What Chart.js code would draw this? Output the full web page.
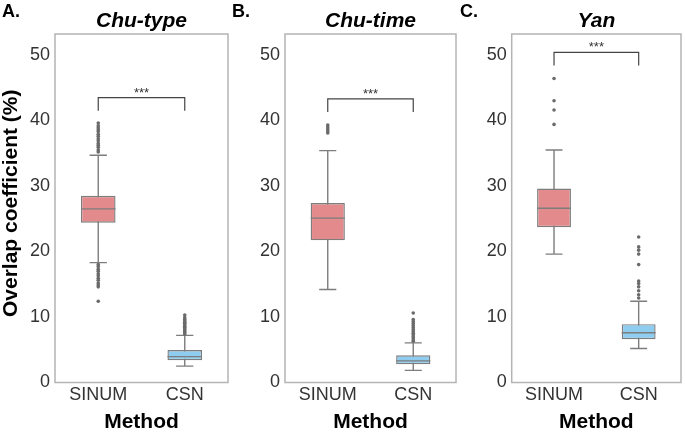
<!DOCTYPE html>
<html>
<head>
<meta charset="utf-8">
<title>Overlap coefficient by method</title>
<script src="https://cdn.jsdelivr.net/npm/chart.js@4.4.1/dist/chart.umd.min.js"></script>
<style>
    html, body { margin: 0; padding: 0; background: #fff; }
    #wrap { position: relative; width: 685px; height: 436px; overflow: hidden; }
    #wrap canvas { position: absolute; top: 0; }
</style>
</head>
<body>
<div id="wrap">
    <canvas id="panelA" width="232" height="436" style="left:0px"></canvas>
    <canvas id="panelB" width="228" height="436" style="left:232px"></canvas>
    <canvas id="panelC" width="225" height="436" style="left:460px"></canvas>
</div>
<script>
// ---- data ----
const methods = ['SINUM', 'CSN'];
const panelLetters = ['A.', 'B.', 'C.'];
const panelTitles = ['Chu-type', 'Chu-time', 'Yan'];
const yTicks = [0, 10, 20, 30, 40, 50];
const yTitle = 'Overlap coefficient (%)';
const xTitle = 'Method';
const sigLabel = '***';

// box stats per panel, [SINUM, CSN]
const whiskerLow  = [[18.3, 2.5],  [14.2, 1.85], [19.6, 5.2]];
const q1          = [[24.4, 3.4],  [21.7, 2.8],  [23.7, 6.6]];
const median      = [[26.5, 3.95], [25.1, 3.3],  [26.6, 7.6]];
const q3          = [[28.5, 4.95], [27.4, 4.15], [29.6, 8.9]];
const whiskerHigh = [[34.7, 7.2],  [35.4, 6.05], [35.5, 12.4]];

const outliersSinum = [
    [35.2, 35.5, 35.9, 36.2, 36.5, 36.9, 37.2, 37.6, 37.9, 38.3, 38.6, 38.9, 39.2, 39.6,
     18.0, 17.7, 17.3, 17.0, 16.6, 16.3, 15.9, 15.6, 15.2, 14.9, 14.6, 12.4],
    [38.1, 38.4, 38.7, 39.0, 39.3],
    [46.4, 43.0, 41.6, 39.4]
];
const outliersCsn = [
    [7.4, 7.6, 7.8, 8.0, 8.2, 8.4, 8.6, 8.8, 9.0, 9.2, 9.4, 9.6, 9.9, 10.3],
    [6.3, 6.5, 6.8, 7.0, 7.3, 7.5, 7.8, 8.1, 8.4, 8.7, 9.0, 9.3, 9.6, 10.6],
    [12.9, 13.4, 14.0, 14.6, 15.1, 15.5, 18.0, 19.6, 20.2, 20.7, 22.2]
];

// significance bracket (value of the bar and of the leg ends)
const bracketTop = [43.5, 43.3, 50.4];
const bracketLow = [41.5, 41.3, 48.4];

// ---- look ----
const FONT = "'Liberation Sans', Arial, sans-serif";
const boxColors = ['#e38b8c', '#8ecdf0'];
const edgeGrey = '#7d7d7d';
const panelLayout = [
    { id: 'panelA', axisWidth: 55,   padRight: 4,   letterX: 2 },
    { id: 'panelB', axisWidth: 53,   padRight: 2.3, letterX: 0 },
    { id: 'panelC', axisWidth: 51.7, padRight: 1,   letterX: 0 }
];

const boxExtras = {
    id: 'boxExtras',
    beforeDatasetsDraw(chart, args, opts) {
        const p = opts.panel;
        const { ctx, scales: { x, y } } = chart;
        const bars = chart.getDatasetMeta(0).data;
        ctx.save();
        ctx.strokeStyle = edgeGrey;
        ctx.lineWidth = 1.4;
        methods.forEach((m, i) => {
            const cx = x.getPixelForValue(i);
            const cap = bars[i].width * 0.25;
            const lo = y.getPixelForValue(whiskerLow[p][i]);
            const hi = y.getPixelForValue(whiskerHigh[p][i]);
            ctx.beginPath();
            ctx.moveTo(cx, lo); ctx.lineTo(cx, hi);
            ctx.moveTo(cx - cap, lo); ctx.lineTo(cx + cap, lo);
            ctx.moveTo(cx - cap, hi); ctx.lineTo(cx + cap, hi);
            ctx.stroke();
        });
        ctx.restore();
    },
    afterDatasetsDraw(chart, args, opts) {
        const p = opts.panel;
        const { ctx, scales: { x, y } } = chart;
        const bars = chart.getDatasetMeta(0).data;
        ctx.save();
        ctx.strokeStyle = edgeGrey;
        ctx.lineWidth = 1.4;
        methods.forEach((m, i) => {
            const cx = x.getPixelForValue(i);
            const half = bars[i].width / 2;
            const my = y.getPixelForValue(median[p][i]);
            ctx.beginPath();
            ctx.moveTo(cx - half, my); ctx.lineTo(cx + half, my);
            ctx.stroke();
        });
        ctx.restore();
    },
    afterDraw(chart, args, opts) {
        const p = opts.panel;
        const { ctx, chartArea: a, scales: { x, y } } = chart;
        ctx.save();

        // frame
        ctx.strokeStyle = '#b4b4b4';
        ctx.lineWidth = 1.5;
        ctx.strokeRect(a.left, a.top, a.right - a.left, a.bottom - a.top);

        // significance bracket
        const x0 = x.getPixelForValue(0), x1 = x.getPixelForValue(1);
        const yt = y.getPixelForValue(bracketTop[p]);
        const yl = y.getPixelForValue(bracketLow[p]);
        ctx.strokeStyle = '#444';
        ctx.lineWidth = 1.2;
        ctx.beginPath();
        ctx.moveTo(x0, yl); ctx.lineTo(x0, yt); ctx.lineTo(x1, yt); ctx.lineTo(x1, yl);
        ctx.stroke();
        ctx.fillStyle = '#333';
        ctx.font = '13px ' + FONT;
        ctx.textAlign = 'center';
        ctx.textBaseline = 'alphabetic';
        ctx.fillText(sigLabel, (x0 + x1) / 2, yt - 1);

        const midX = (a.left + a.right) / 2;
        ctx.fillStyle = '#000';

        // panel title
        ctx.font = 'italic bold 21px ' + FONT;
        ctx.fillText(panelTitles[p], midX, 27);

        // panel letter
        ctx.textAlign = 'left';
        ctx.font = 'bold 18px ' + FONT;
        ctx.fillText(panelLetters[p], opts.letterX, 17);

        // x title
        ctx.textAlign = 'center';
        ctx.font = 'bold 21px ' + FONT;
        ctx.fillText(xTitle, midX, 428);

        // y title, first panel only
        if (p === 0) {
            ctx.translate(17, (a.top + a.bottom) / 2 - 5);
            ctx.rotate(-Math.PI / 2);
            ctx.fillText(yTitle, 0, 0);
        }
        ctx.restore();
    }
};

const makePanel = function(p) {
    const lay = panelLayout[p];
    const outPts = [];
    outliersSinum[p].forEach(v => outPts.push({ x: methods[0], y: v }));
    outliersCsn[p].forEach(v => outPts.push({ x: methods[1], y: v }));

    new Chart(document.getElementById(lay.id), {
        type: 'bar',
        data: {
            labels: methods,
            datasets: [{
                data: methods.map((m, i) => [q1[p][i], q3[p][i]]),
                backgroundColor: boxColors,
                borderColor: edgeGrey,
                borderWidth: 1.4,
                borderSkipped: false,
                barPercentage: 0.4,
                categoryPercentage: 1
            }, {
                type: 'line',
                data: outPts,
                showLine: false,
                pointRadius: 1.8,
                pointBorderWidth: 0,
                pointBackgroundColor: '#6a6a6a',
                pointBorderColor: '#6a6a6a'
            }]
        },
        options: {
            responsive: false,
            animation: false,
            layout: { padding: { top: 34, right: lay.padRight, bottom: 0, left: 0 } },
            plugins: {
                legend: { display: false },
                tooltip: { enabled: false },
                boxExtras: { panel: p, letterX: lay.letterX }
            },
            scales: {
                x: {
                    grid: { display: false, drawTicks: false },
                    border: { display: false },
                    ticks: { color: '#333', padding: 2, font: { family: FONT, size: 18 } },
                    afterFit: s => { s.height = 53.5; }
                },
                y: {
                    min: 0,
                    max: 53.2,
                    grid: { display: false, drawTicks: false },
                    border: { display: false },
                    ticks: { color: '#333', padding: 5, font: { family: FONT, size: 18 } },
                    afterBuildTicks: s => { s.ticks = yTicks.map(v => ({ value: v })); },
                    afterFit: s => { s.width = lay.axisWidth; }
                }
            }
        },
        plugins: [boxExtras]
    });
};

[0, 1, 2].forEach(makePanel);
</script>
</body>
</html>
